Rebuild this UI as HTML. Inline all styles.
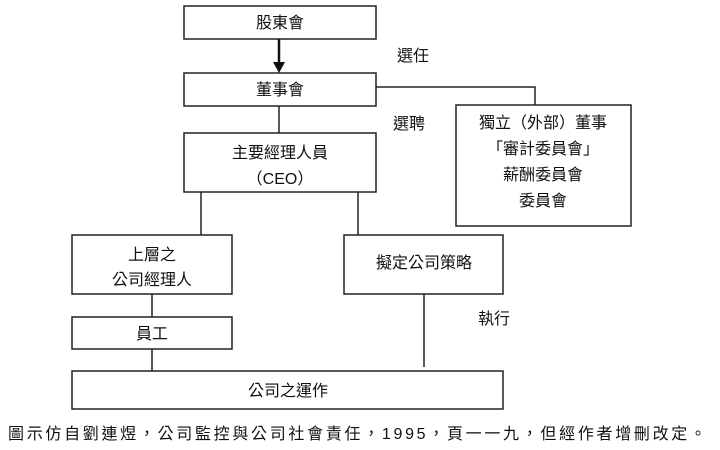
<!DOCTYPE html>
<html><head><meta charset="utf-8"><style>
html,body{margin:0;padding:0;background:#fff;}
svg{display:block;}
text{font-family:"Liberation Sans","Noto Sans CJK TC",sans-serif;font-size:16px;fill:#111;}
</style></head><body>
<svg width="720" height="450" viewBox="0 0 720 450" xmlns="http://www.w3.org/2000/svg">
<g fill="none" stroke="#222" stroke-width="1.5">
<rect x="184" y="6" width="192" height="33"/>
<rect x="184" y="73" width="192" height="33"/>
<rect x="456" y="105" width="175" height="121"/>
<rect x="184" y="133" width="192" height="59"/>
<rect x="72" y="235" width="160" height="59"/>
<rect x="344" y="235" width="159" height="59"/>
<rect x="72" y="317" width="160" height="32"/>
<rect x="72" y="371" width="431" height="38"/>
<polyline points="376,87 535,87 535,105"/>
<line x1="279" y1="106" x2="279" y2="133"/>
<line x1="201" y1="192" x2="201" y2="235"/>
<line x1="358" y1="192" x2="358" y2="235"/>
<line x1="152" y1="294" x2="152" y2="317"/>
<line x1="152" y1="349" x2="152" y2="371"/>
<line x1="424" y1="294" x2="424" y2="367"/>
</g>
<line x1="279" y1="39" x2="279" y2="64" stroke="#111" stroke-width="2.5"/>
<polygon points="273,62 285,62 279,73" fill="#111"/>
<g text-anchor="middle">
<text x="280" y="28">股東會</text>
<text x="280" y="95">董事會</text>
<text x="413" y="61">選任</text>
<text x="409" y="129">選聘</text>
<text x="543" y="128">獨立（外部）董事</text>
<text x="543" y="154">「審計委員會」</text>
<text x="543" y="180">薪酬委員會</text>
<text x="543" y="206">委員會</text>
<text x="280" y="158">主要經理人員</text>
<text x="280" y="184">（CEO）</text>
<text x="152" y="260">上層之</text>
<text x="152" y="285">公司經理人</text>
<text x="424" y="268">擬定公司策略</text>
<text x="494" y="324">執行</text>
<text x="152" y="339">員工</text>
<text x="288" y="396">公司之運作</text>
</g>
<text x="8" y="439" font-size="14" textLength="698" lengthAdjust="spacing">圖示仿自劉連煜，公司監控與公司社會責任，1995，頁一一九，但經作者增刪改定。</text>
</svg>
</body></html>
